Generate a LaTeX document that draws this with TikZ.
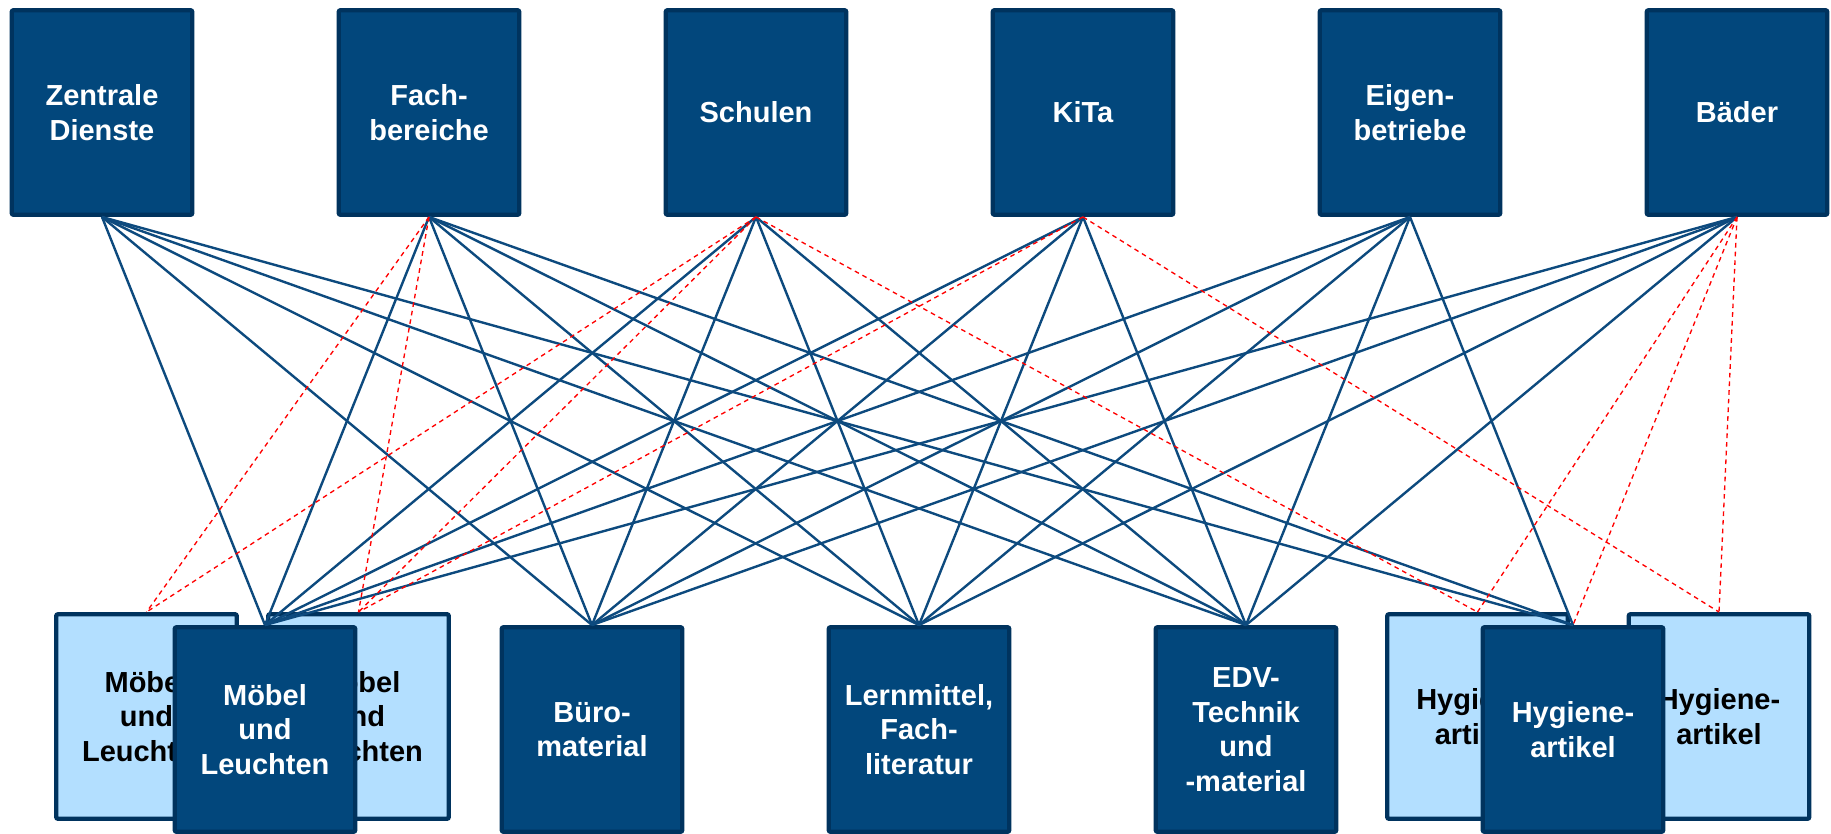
\documentclass[tikz,border=0pt]{standalone}
\usepackage{fontspec}
\setmainfont{Liberation Sans}
\definecolor{boxfill}{HTML}{02477C}
\definecolor{boxline}{HTML}{00335E}
\definecolor{lightfill}{HTML}{B3DFFF}
\definecolor{linkcol}{HTML}{0D4A7E}
\begin{document}
\begin{tikzpicture}[x=0.75pt,y=-0.75pt,
  box/.style={draw=boxline, line width=3.2pt, rounded corners=1.5pt,
    minimum width=135.5pt, minimum height=153.5pt, inner sep=0pt,
    align=center, font=\bfseries\fontsize{21.75}{26}\selectfont},
  darkbox/.style={box, fill=boxfill, text=white},
  lightbox/.style={box, fill=lightfill, text=black},
  link/.style={draw=linkcol, line width=1.8pt},
  dlink/.style={draw=red, line width=1pt, dash pattern=on 3.5pt off 3pt}]
\useasboundingbox (0,0) rectangle (1831,833);
\fill[white] (0,0) rectangle (1831,833);
\clip (0,0) rectangle (1831,833);
% light (background) boxes
\node[lightbox] (moeL) at (146.5,716.5) {Möbel\\und\\Leuchten};
\node[lightbox] (moeR) at (358.5,716.5) {Möbel\\und\\Leuchten};
\node[lightbox] (hygL) at (1477.5,716.5) {Hygiene-\\artikel};
\node[lightbox] (hygR) at (1719,716.5) {Hygiene-\\artikel};
% bottom dark boxes
\node[darkbox] (moe) at (265,729.5) {Möbel\\und\\Leuchten};
\node[darkbox] (bue) at (592,729.5) {Büro-\\material};
\node[darkbox] (lern) at (919,729.5) {Lernmittel,\\Fach-\\literatur};
\node[darkbox] (edv) at (1246,729.5) {EDV-\\Technik\\und\\-material};
\node[darkbox] (hyg) at (1573,729.5) {Hygiene-\\artikel};
% top boxes
\node[darkbox] (zd) at (102,112.5) {Zentrale\\Dienste};
\node[darkbox] (fb) at (429,112.5) {Fach-\\bereiche};
\node[darkbox] (sch) at (756,112.5) {Schulen};
\node[darkbox] (kita) at (1083,112.5) {KiTa};
\node[darkbox] (eb) at (1410,112.5) {Eigen-\\betriebe};
\node[darkbox] (bad) at (1737,112.5) {Bäder};
% solid connectors
\foreach \t in {zd,fb,eb} {
  \foreach \b in {moe,bue,lern,edv,hyg} { \draw[link] (\t.south) -- (\b.north); }
}
\foreach \t in {sch,kita,bad} {
  \foreach \b in {moe,bue,lern,edv} { \draw[link] (\t.south) -- (\b.north); }
}
% dashed connectors
\draw[dlink] (fb.south) -- (moeL.north);
\draw[dlink] (fb.south) -- (moeR.north);
\draw[dlink] (sch.south) -- (moeL.north);
\draw[dlink] (sch.south) -- (moeR.north);
\draw[dlink] (sch.south) -- (hygL.north);
\draw[dlink] (kita.south) -- (moeR.north);
\draw[dlink] (kita.south) -- (hygR.north);
\draw[dlink] (bad.south) -- (hygL.north);
\draw[dlink] (bad.south) -- (hyg.north);
\draw[dlink] (bad.south) -- (hygR.north);
\end{tikzpicture}
\end{document}
